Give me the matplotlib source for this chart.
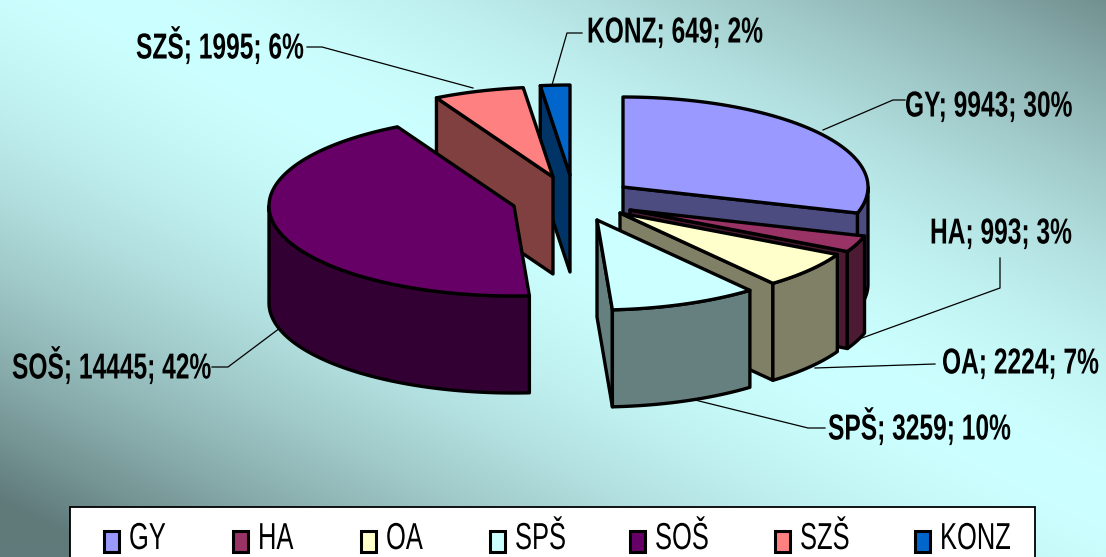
import matplotlib
matplotlib.use("Agg")
import matplotlib.pyplot as plt
import matplotlib.patheffects as pe
from matplotlib.patches import Polygon, Rectangle
from matplotlib.text import Text
from matplotlib.transforms import Affine2D, Bbox
import numpy as np

categories = ["GY", "HA", "OA", "SPŠ", "SOŠ", "SZŠ", "KONZ"]
values = [9943, 993, 2224, 3259, 14445, 1995, 649]
percents = [30, 3, 7, 10, 42, 6, 2]

top_colors = ["#9999FF", "#993366", "#FFFFCC", "#CCFFFF", "#660066", "#FF8080", "#0066CC"]
side_colors = ["#4C4C80", "#4C1A33", "#808066", "#668080", "#330033", "#804040", "#003366"]

# where each exploded slice has its tip, in pixels
tips = [(623, 187), (630, 210), (620, 213), (597, 220), (514, 206), (553, 177), (570, 175)]
RX, RY, DEPTH = 245, 90, 97

# label anchor (left x, centre y) and leader line
label_pos = [(905, 107), (930, 234), (942, 364), (828, 428), (12, 367), (136, 47), (587, 33)]
leaders = [
    [(823, 130), (893, 100), (905, 100)],
    [(862, 338), (1000, 288), (1000, 258)],
    [(815, 368), (935, 364)],
    [(695, 400), (808, 428), (825, 428)],
    [(280, 328), (228, 367), (212, 367)],
    [(473, 88), (322, 47), (307, 47)],
    [(552, 85), (567, 33), (582, 33)],
]
legend_x = [104, 233, 361, 490, 630, 775, 915]

FONT = "Liberation Sans"
SQUEEZE = 0.68  # the original type is much narrower than any installed font


class Narrow(pe.AbstractPathEffect):
    def draw_path(self, renderer, gc, tpath, affine, rgbFace=None):
        renderer.draw_path(gc, tpath, Affine2D().scale(SQUEEZE, 1) + affine, rgbFace)


class NarrowText(Text):
    # left aligned text only, squeezed towards its left end
    def get_window_extent(self, renderer=None, dpi=None):
        box = super().get_window_extent(renderer, dpi)
        return Bbox.from_extents(box.x0, box.y0, box.x0 + box.width * SQUEEZE, box.y1)


def put_text(ax, x, y, s, **kw):
    t = NarrowText(x, y, s, family=FONT, va="center", ha="left", color="black",
                   path_effects=[Narrow()], **kw)
    ax.add_artist(t)
    return t


def background(ax):
    ny, nx = 279, 553
    v, u = np.mgrid[0:1:ny * 1j, 0:1:nx * 1j]
    bright = np.array([204, 255, 255]) / 255
    dark = np.array([96, 122, 122]) / 255
    # light along the top left to bottom right diagonal, dark in the other corners
    w = np.clip(np.abs(u - v - 0.1) ** 1.7, 0, 1)[..., None]
    ax.imshow(bright * (1 - w) + dark * w, extent=[0, 1106, 557, 0], aspect="auto", zorder=0)


def pt(tip, a, drop=0):
    return tip[0] + RX * np.sin(a), tip[1] - RY * np.cos(a) + drop


def draw_slice(ax, i, a0, a1, z):
    tip = tips[i]
    kw = dict(ec="black", lw=2.4, joinstyle="round", zorder=z)
    # radial walls first, only the ones turned to the viewer
    for a, show in ((a0, np.sin(a0) < 0), (a1, np.sin(a1) > 0)):
        if show:
            p = pt(tip, a)
            wall = [tip, p, (p[0], p[1] + DEPTH), (tip[0], tip[1] + DEPTH)]
            ax.add_patch(Polygon(wall, fc=side_colors[i], **kw))
    # outer wall
    s0, s1 = max(a0, np.pi / 2), min(a1, 3 * np.pi / 2)
    if s1 > s0:
        t = np.linspace(s0, s1, 80)
        upper = [pt(tip, a) for a in t]
        lower = [pt(tip, a, DEPTH) for a in t[::-1]]
        ax.add_patch(Polygon(upper + lower, fc=side_colors[i], **kw))
    t = np.linspace(a0, a1, 120)
    ax.add_patch(Polygon([tip] + [pt(tip, a) for a in t], fc=top_colors[i], **kw))


def main():
    fig = plt.figure(figsize=(11.06, 5.57), dpi=100)
    ax = fig.add_axes([0, 0, 1, 1])
    background(ax)

    edges = np.concatenate([[0], np.cumsum(values)]) / np.sum(values) * 2 * np.pi
    order = [6, 5, 4, 0, 1, 2, 3]
    for z, i in enumerate(order):
        draw_slice(ax, i, edges[i], edges[i + 1], 2 + z * 0.1)

    for i, line in enumerate(leaders):
        xs, ys = zip(*line)
        ax.plot(xs, ys, color="black", lw=0.9, zorder=1.5)
        put_text(ax, label_pos[i][0], label_pos[i][1], f"{categories[i]}; {values[i]}; {percents[i]}%",
                 fontweight="bold", fontsize=26, zorder=5)

    # legend box runs off the bottom of the picture
    ax.add_patch(Rectangle((70, 507), 965, 60, fc="white", ec="black", lw=1.3, zorder=5))
    for i, name in enumerate(categories):
        ax.add_patch(Rectangle((legend_x[i], 531), 15, 21, fc=top_colors[i], ec="black", lw=2.2, zorder=6))
        put_text(ax, legend_x[i] + 25, 539, name, fontsize=27, zorder=6)

    ax.set_xlim(0, 1106)
    ax.set_ylim(557, 0)
    ax.axis("off")
    fig.savefig("out.png", dpi=100)


if __name__ == "__main__":
    main()
